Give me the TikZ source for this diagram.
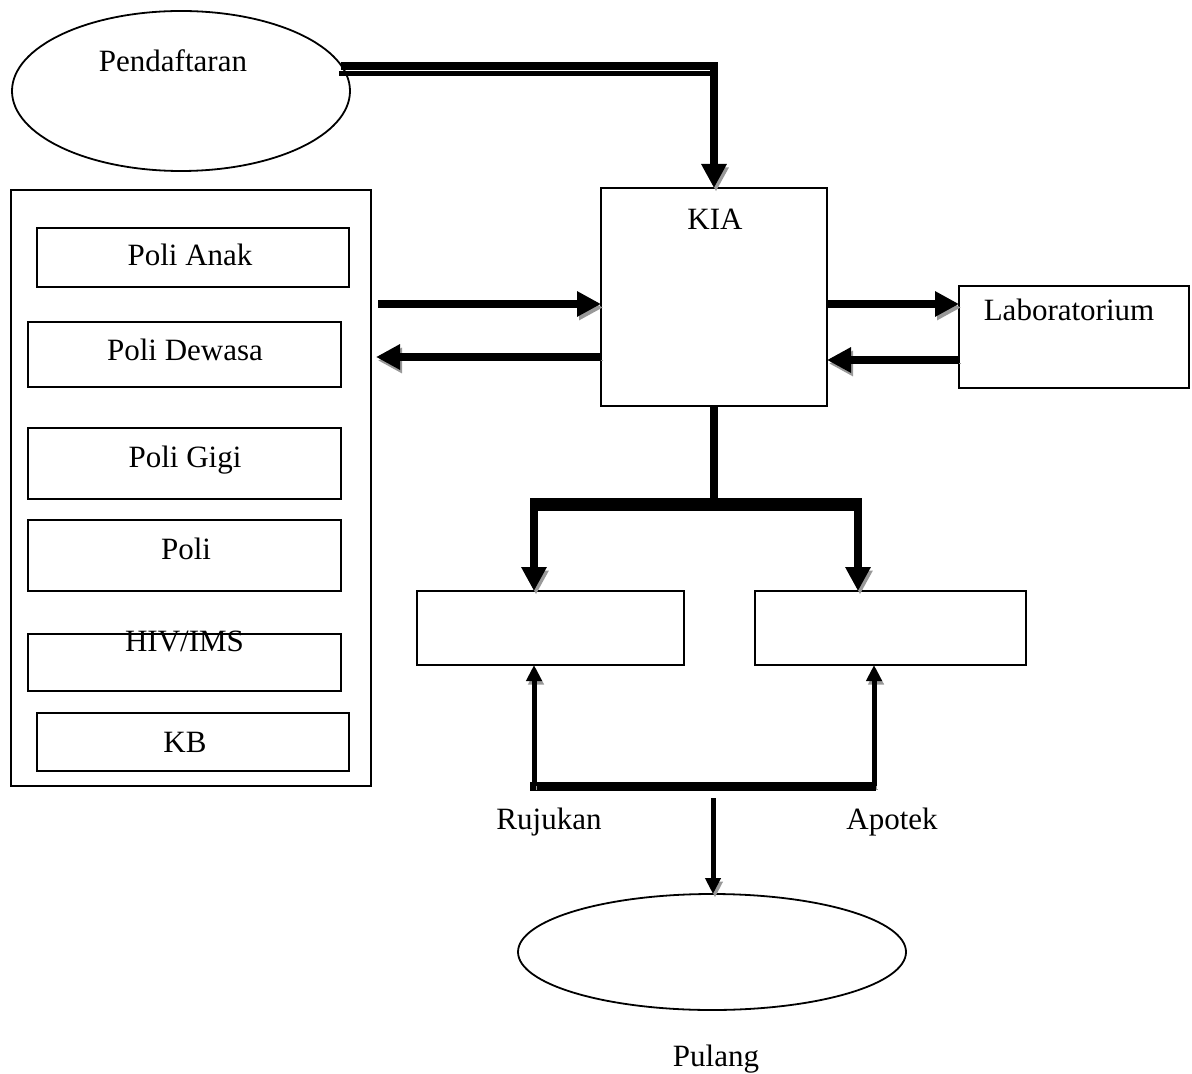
\documentclass[tikz,border=0pt]{standalone}
\usepackage{fontspec}
\setmainfont{Liberation Serif}
\usetikzlibrary{arrows.meta,shapes.geometric,calc}
\definecolor{shadowgray}{gray}{0.6}
\tikzset{
 box/.style={draw, line width=0.9pt, inner sep=0pt, outer sep=0pt, rectangle},
 oval/.style={draw, line width=0.9pt, ellipse, inner sep=0pt, outer sep=0pt},
 lbl/.style={inner sep=0pt, anchor=base, font=\fontsize{15.5pt}{18pt}\selectfont},
 shad/.style={preaction={draw=shadowgray, transform canvas={shift={(1pt,-1.75pt)}}}},
 fatarrow/.style={line width=4pt, line join=miter, -{Triangle[length=12pt,width=12pt]}, shad},
 fatline/.style={line width=4pt, line join=miter, shad},
 barline/.style={line width=4.5pt, shad},
 thinarrow/.style={line width=2.5pt, -{Triangle[length=8pt,width=7.5pt]}, shad},
 lineB/.style={line width=2.5pt},
}
\begin{document}
\begin{tikzpicture}[x=0.5pt,y=-0.5pt]
\useasboundingbox (0,0) rectangle (1192,1074);
% nodes
\node[oval, minimum width=169pt, minimum height=80pt] (pend) at (181,91) {};
\node[lbl] (tpend) at (173,72) {Pendaftaran};
\node[box, minimum width=180pt, minimum height=298pt] (outer) at (191,488) {};
\node[box, minimum width=156pt, minimum height=29.5pt] (anak) at (193,257.5) {};
\node[lbl] (tanak) at (190,266) {Poli Anak};
\node[box, minimum width=156.5pt, minimum height=32.5pt] (dewasa) at (184.5,354.5) {};
\node[lbl] (tdewasa) at (185,361) {Poli Dewasa};
\node[box, minimum width=156.5pt, minimum height=35.5pt] (gigi) at (184.5,463.5) {};
\node[lbl] (tgigi) at (185,467) {Poli Gigi};
\node[box, minimum width=156.5pt, minimum height=35.5pt] (poli) at (184.5,555.5) {};
\node[lbl] (tpoli) at (186,559) {Poli};
\node[box, minimum width=156.5pt, minimum height=28.5pt] (hiv) at (184.5,662.5) {};
\node[lbl] (thiv) at (184.5,651) {HIV/IMS};
\node[box, minimum width=156pt, minimum height=29pt] (kb) at (193,742) {};
\node[lbl] (tkb) at (185,752) {KB};
\node[box, minimum width=113pt, minimum height=109pt] (kia) at (714,297) {};
\node[lbl] (tkia) at (715,230) {KIA};
\node[box, minimum width=115pt, minimum height=51pt] (lab) at (1074,337) {};
\node[lbl] (tlab) at (1069,321) {Laboratorium};
\node[box, minimum width=133.5pt, minimum height=37pt] (ruj) at (550.5,628) {};
\node[box, minimum width=135.5pt, minimum height=37pt] (apo) at (890.5,628) {};
\node[lbl] (truj) at (549,829) {Rujukan};
\node[lbl] (tapo) at (892,829) {Apotek};
\node[oval, minimum width=194pt, minimum height=58pt] (pul) at (712,952) {};
\node[lbl] (tpul) at (716,1066) {Pulang};
% top connector
\coordinate (tA) at (pend.9);
\coordinate (tC) at (tA -| kia.north);
\draw[lineB] ($(tA)+(-1pt,-3.75pt)$) -- ($(tC)+(2pt,-3.75pt)$);
\draw[fatarrow] (tA) -| (kia.north);
% poli <-> KIA
\coordinate (a1) at (378,304);
\coordinate (a2) at (376,357);
\draw[fatarrow] (a1) -- (a1 -| kia.west);
\draw[fatarrow] (a2 -| kia.west) -- (a2);
% KIA <-> Lab
\coordinate (a3) at (900,304);
\coordinate (a4) at (900,360);
\draw[fatarrow] (a3 -| kia.east) -- (a3 -| lab.west);
\draw[fatarrow] (a4 -| lab.west) -- (a4 -| kia.east);
% split
\coordinate (sL) at (534,502);
\coordinate (sR) at (858,502);
\draw[fatline] (kia.south) -- (kia.south |- sL);
\draw[lineB] ($(sL)+(0,-3.25pt)$) -- ($(sR)+(1pt,-3.25pt)$);
\draw[fatarrow] (sR) -- (sL) -- (sL |- ruj.north);
\draw[fatarrow] (sL) -- (sR) -- (sR |- apo.north);
% bottom
\coordinate (bL) at (534,786);
\coordinate (bR) at (874,786);
\draw[barline] ($(bL)+(-2pt,0)$) -- ($(bR)+(1pt,0)$);
\draw[thinarrow] (bL) -- (bL |- ruj.south);
\draw[thinarrow] (bR) -- (bR |- apo.south);
\coordinate (dT) at (713,798);
\draw[thinarrow] (dT) -- (dT |- pul.north);
\end{tikzpicture}
\end{document}
